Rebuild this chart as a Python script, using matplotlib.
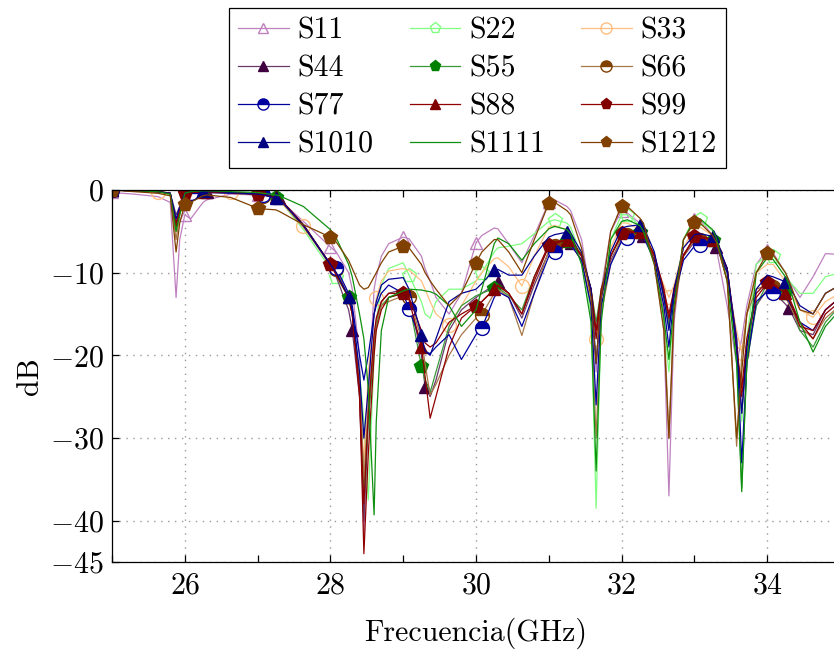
import numpy as np
import matplotlib
matplotlib.use('Agg')
import matplotlib.pyplot as plt

plt.rcParams['font.family'] = 'serif'
plt.rcParams['font.serif'] = ['cmr10']
plt.rcParams['mathtext.fontset'] = 'cm'
plt.rcParams['axes.formatter.use_mathtext'] = True

FS = 21.5

# frequency grid (GHz), denser around the notches
freq = [25.0, 25.3, 25.63, 25.8, 25.88, 25.93, 26.0, 26.08, 26.25, 26.3, 26.63, 27.0, 27.08, 27.25, 27.3, 27.63,
        28.0, 28.08, 28.25, 28.3, 28.4, 28.46, 28.52, 28.6, 28.63, 28.7, 28.8,
        29.0, 29.08, 29.25, 29.3, 29.37, 29.45, 29.63, 29.8,
        30.0, 30.08, 30.25, 30.3, 30.45, 30.63, 30.8,
        31.0, 31.08, 31.25, 31.3, 31.45, 31.58, 31.65, 31.72, 31.85,
        32.0, 32.08, 32.25, 32.3, 32.45, 32.58, 32.65, 32.72, 32.85,
        33.0, 33.08, 33.25, 33.3, 33.45, 33.58, 33.65, 33.72, 33.85,
        34.0, 34.08, 34.25, 34.3, 34.45, 34.63, 34.8, 35.0]

s11 = [-0.3, -0.5, -0.8, -1.5, -13.0, -6.0, -3.0, -3.5, -1.5, -1.2, -0.5, -0.6, -0.7, -1.0, -1.2, -3.8,
       -6.9, -7.5, -10.0, -12.0, -20.0, -42.0, -25.0, -12.0, -10.5, -8.0, -6.5,
       -5.7, -5.9, -8.0, -9.5, -11.0, -13.0, -15.0, -12.5,
       -6.4, -5.5, -4.6, -4.7, -6.5, -8.8, -5.5,
       -1.5, -1.2, -2.0, -2.5, -6.0, -13.0, -22.0, -12.0, -5.0,
       -2.5, -2.8, -4.0, -4.5, -8.5, -17.0, -37.0, -16.0, -6.0,
       -3.5, -3.6, -5.5, -7.0, -14.0, -21.0, -18.0, -14.0, -9.0,
       -7.2, -7.6, -10.0, -11.0, -13.0, -10.5, -7.7, -7.8]
s22 = [0.0, -0.1, -0.3, -0.6, -5.0, -3.0, -0.8, -0.4, -0.2, -0.2, -0.3, -0.5, -0.6, -1.0, -1.2, -4.8,
       -9.5, -10.5, -13.0, -15.0, -22.0, -28.0, -37.5, -20.0, -16.0, -11.5, -9.5,
       -8.8, -10.3, -13.5, -15.0, -15.5, -13.5, -12.0, -12.0,
       -11.0, -10.0, -7.5, -7.0, -6.8, -6.5, -5.3,
       -3.8, -3.6, -4.0, -4.5, -8.0, -15.0, -38.5, -15.0, -6.0,
       -3.0, -3.0, -4.3, -5.0, -9.0, -16.0, -22.0, -14.0, -6.0,
       -3.3, -3.5, -5.0, -6.0, -11.0, -20.0, -28.0, -18.0, -9.0,
       -7.8, -8.0, -10.0, -11.0, -12.5, -12.5, -10.5, -10.0]
s33 = [0.0, -0.1, -0.3, -0.4, -4.0, -2.5, -0.5, -0.3, -0.2, -0.2, -0.3, -0.6, -0.7, -1.1, -1.3, -4.4,
       -9.0, -10.0, -13.0, -15.0, -24.0, -33.0, -22.0, -15.0, -13.1, -11.0, -9.8,
       -9.5, -9.7, -11.0, -12.0, -13.5, -15.0, -16.3, -14.0,
       -11.0, -10.0, -8.3, -8.2, -9.3, -11.6, -8.0,
       -4.5, -4.3, -4.8, -5.2, -8.5, -13.0, -18.0, -14.0, -7.0,
       -4.0, -4.0, -4.8, -5.4, -8.5, -11.5, -13.0, -11.5, -7.0,
       -4.5, -4.5, -5.5, -6.3, -11.0, -17.0, -19.7, -15.0, -10.0,
       -9.0, -9.0, -11.0, -12.0, -14.5, -15.4, -13.5, -12.5]
s44 = [0.0, -0.1, -0.2, -0.4, -3.0, -2.0, -0.4, -0.3, -0.2, -0.2, -0.3, -0.5, -0.6, -0.9, -1.0, -4.3,
       -9.2, -10.5, -14.5, -16.9, -25.0, -40.0, -28.0, -18.0, -16.0, -13.5, -12.5,
       -12.0, -12.8, -20.0, -23.8, -25.0, -23.0, -17.0, -14.5,
       -13.0, -12.5, -11.5, -11.1, -12.5, -15.5, -11.5,
       -7.5, -7.0, -6.3, -6.4, -8.0, -12.0, -17.0, -13.0, -8.5,
       -6.0, -5.6, -5.5, -5.6, -8.0, -12.0, -16.0, -12.0, -8.0,
       -6.3, -6.3, -6.6, -6.9, -9.5, -18.0, -27.0, -20.0, -14.0,
       -12.0, -12.3, -13.8, -14.3, -17.0, -17.5, -14.5, -13.0]
s55 = [0.0, -0.1, -0.2, -0.4, -5.0, -2.5, -0.5, -0.3, -0.1, -0.1, -0.3, -0.5, -0.6, -0.9, -1.0, -4.3,
       -9.0, -10.2, -12.9, -14.5, -23.0, -36.0, -28.0, -19.0, -16.5, -14.0, -13.0,
       -12.5, -13.5, -21.3, -23.0, -24.5, -22.0, -16.5, -14.0,
       -12.8, -12.5, -11.9, -11.8, -12.8, -14.5, -10.5,
       -6.8, -6.5, -6.2, -6.3, -8.0, -12.0, -16.0, -12.0, -8.0,
       -5.5, -5.2, -5.1, -5.3, -8.0, -13.0, -16.5, -13.0, -8.0,
       -5.8, -5.8, -6.0, -6.5, -9.5, -20.0, -36.0, -21.0, -14.0,
       -11.3, -11.5, -12.5, -13.3, -17.0, -19.0, -16.0, -14.0]
s66 = [0.0, -0.1, -0.2, -0.4, -6.0, -3.0, -0.6, -0.4, -0.3, -0.3, -0.4, -0.6, -0.7, -1.0, -1.2, -4.5,
       -9.0, -9.5, -13.0, -15.0, -23.0, -35.0, -26.0, -18.0, -16.0, -14.0, -13.5,
       -12.8, -13.0, -18.0, -21.0, -24.8, -23.5, -20.0, -17.5,
       -15.5, -15.1, -12.5, -12.0, -13.0, -17.6, -12.5,
       -7.3, -6.8, -6.4, -6.6, -8.5, -14.0, -30.0, -15.0, -9.0,
       -5.7, -5.4, -5.4, -5.6, -8.0, -15.0, -30.0, -14.0, -8.0,
       -6.0, -6.0, -6.3, -6.7, -10.0, -31.0, -20.0, -15.0, -12.0,
       -11.5, -11.7, -13.0, -13.8, -16.5, -18.0, -15.5, -14.0]
s77 = [0.0, -0.1, -0.2, -0.4, -4.0, -2.5, -0.5, -0.4, -0.3, -0.3, -0.4, -0.5, -0.6, -0.9, -1.0, -4.2,
       -9.0, -9.4, -12.5, -14.0, -20.0, -23.0, -20.0, -15.0, -14.0, -12.5, -11.5,
       -12.5, -14.4, -18.5, -19.5, -19.8, -19.0, -17.5, -20.5,
       -17.5, -16.7, -13.0, -12.3, -13.0, -16.5, -12.5,
       -8.0, -7.5, -6.5, -6.6, -8.5, -14.0, -26.0, -14.0, -9.0,
       -6.2, -5.8, -5.5, -5.7, -8.5, -14.0, -19.0, -13.0, -8.5,
       -6.8, -6.7, -6.5, -6.8, -10.0, -18.0, -33.0, -21.0, -13.5,
       -12.3, -12.5, -13.0, -13.5, -16.0, -17.0, -14.5, -13.0]
s88 = [0.0, -0.1, -0.2, -0.4, -4.0, -2.5, -0.5, -0.3, -0.2, -0.2, -0.3, -0.5, -0.6, -0.9, -1.0, -4.3,
       -9.0, -10.3, -13.0, -15.0, -24.0, -44.0, -32.0, -20.0, -17.0, -14.5, -13.0,
       -12.5, -13.3, -19.0, -22.5, -27.6, -25.0, -19.0, -15.5,
       -14.0, -13.5, -12.0, -11.6, -12.5, -15.0, -11.0,
       -6.8, -6.5, -6.0, -6.1, -7.8, -12.0, -18.0, -12.5, -8.0,
       -5.4, -5.2, -5.1, -5.3, -7.8, -12.0, -15.0, -12.0, -7.8,
       -5.8, -5.8, -6.0, -6.4, -9.5, -19.0, -25.0, -19.0, -13.0,
       -11.3, -11.5, -12.4, -13.0, -16.0, -18.0, -15.0, -13.5]
s99 = [0.0, -0.1, -0.2, -0.4, -4.5, -2.5, -0.4, -0.3, -0.2, -0.2, -0.3, -0.5, -0.6, -0.9, -1.0, -4.2,
       -9.0, -10.0, -13.0, -15.0, -25.0, -38.0, -27.0, -17.5, -15.5, -13.5, -12.5,
       -12.5, -13.0, -17.0, -18.5, -19.0, -18.5, -16.0, -15.0,
       -14.0, -13.5, -12.0, -11.5, -12.5, -15.0, -10.5,
       -6.6, -6.3, -6.0, -6.2, -8.0, -12.0, -17.0, -12.0, -8.0,
       -5.2, -5.0, -5.1, -5.4, -8.0, -12.5, -15.5, -12.5, -8.0,
       -5.6, -5.6, -6.0, -6.4, -9.5, -19.0, -24.0, -18.0, -12.5,
       -11.1, -11.3, -12.5, -13.2, -16.5, -17.0, -14.5, -13.0]
s1010 = [0.0, -0.1, -0.2, -0.4, -3.5, -2.0, -0.4, -0.2, -0.1, -0.1, -0.3, -0.5, -0.6, -1.0, -1.1, -4.3,
         -9.0, -10.0, -12.9, -14.5, -22.0, -30.0, -24.0, -15.0, -13.5, -11.5, -10.8,
         -10.6, -12.0, -17.5, -19.5, -20.0, -18.0, -13.5, -12.5,
         -12.0, -11.3, -9.7, -9.6, -10.3, -10.3, -8.0,
         -5.7, -5.4, -5.1, -5.3, -7.5, -12.0, -21.0, -13.0, -7.5,
         -4.6, -4.4, -4.2, -4.4, -7.5, -13.0, -17.0, -12.0, -7.0,
         -5.4, -5.3, -5.6, -6.0, -9.5, -19.0, -27.0, -19.0, -12.0,
         -10.3, -10.5, -11.1, -11.6, -14.0, -15.0, -12.5, -11.5]
s1111 = [0.0, -0.1, -0.2, -0.5, -5.0, -3.0, -0.4, -0.2, -0.1, -0.1, -0.2, -0.3, -0.4, -0.6, -0.7, -2.0,
         -4.8, -5.8, -9.0, -10.5, -15.0, -18.0, -24.0, -39.3, -28.0, -17.0, -13.0,
         -12.2, -12.0, -12.1, -12.2, -12.3, -12.6, -14.0, -16.5,
         -14.5, -12.0, -6.5, -5.8, -6.5, -8.5, -6.5,
         -4.7, -4.4, -4.8, -5.3, -9.0, -16.0, -34.0, -16.0, -6.0,
         -3.8, -3.6, -4.3, -5.0, -9.0, -15.5, -20.5, -14.0, -6.0,
         -3.6, -3.5, -4.8, -5.8, -11.0, -21.0, -36.5, -21.0, -10.0,
         -8.2, -8.4, -10.5, -11.5, -16.0, -19.6, -16.5, -14.5]
s1212 = [0.0, -0.2, -0.4, -0.7, -7.5, -4.0, -1.7, -1.5, -0.7, -0.6, -0.9, -2.2, -2.3, -2.4, -2.6, -4.2,
         -5.7, -6.3, -8.5, -9.5, -11.5, -12.0, -11.8, -10.5, -10.0, -8.8, -7.5,
         -6.8, -7.0, -9.0, -10.0, -11.0, -12.0, -14.0, -12.5,
         -8.8, -7.5, -6.0, -6.0, -7.5, -10.0, -6.0,
         -1.6, -1.5, -2.5, -3.0, -7.0, -13.0, -21.0, -13.0, -5.0,
         -1.9, -2.0, -3.4, -4.0, -9.0, -17.0, -30.0, -15.0, -6.0,
         -3.9, -4.0, -5.5, -6.3, -11.0, -30.0, -22.0, -15.0, -10.0,
         -7.6, -7.8, -10.0, -11.0, -14.5, -15.0, -12.5, -11.5]

labels = ['S11', 'S22', 'S33', 'S44', 'S55', 'S66', 'S77', 'S88', 'S99', 'S1010', 'S1111', 'S1212']
series = [s11, s22, s33, s44, s55, s66, s77, s88, s99, s1010, s1111, s1212]

ints = [25, 26, 27, 28, 29, 30, 31, 32, 33, 34]
marks = [ints,
         [25.0] + [k + 0.08 for k in ints[1:]],
         [25.0, 25.63, 26.63, 27.63, 28.63, 29.63, 30.63, 31.65, 32.65, 33.65, 34.63],
         [25.0] + [k + 0.3 for k in ints[1:]],
         [25.0] + [k + 0.25 for k in ints[1:]],
         [25.0] + [k + 0.08 for k in ints[1:]],
         [25.0] + [k + 0.08 for k in ints[1:]],
         [25.0] + [k + 0.25 for k in ints[1:]],
         ints,
         [25.0] + [k + 0.25 for k in ints[1:]],
         [],
         ints]

# (line colour, marker, marker colour, fill style)
styles = [('#bf80bf', '^', '#bf80bf', 'none'),
          ('#80ff80', 'p', '#80ff80', 'none'),
          ('#ffbf80', 'o', '#ffbf80', 'none'),
          ('#6a3a6a', '^', '#400040', 'full'),
          ('#3a9a3a', 'p', '#008000', 'full'),
          ('#a87848', 'o', '#804000', 'top'),
          ('#0000a0', 'o', '#0000a0', 'top'),
          ('#900000', '^', '#800000', 'full'),
          ('#900000', 'p', '#800000', 'full'),
          ('#000090', '^', '#000080', 'full'),
          ('#109010', '', '#008000', 'full'),
          ('#804000', 'p', '#804000', 'full')]

fig = plt.figure(figsize=(8.34, 6.5), dpi=100)
ax = fig.add_axes([0.1343, 0.1354, 0.8729, 0.5723])

freq_arr = np.array(freq)
handles = []
for lab, vals, mk, st in zip(labels, series, marks, styles):
    lc, m, mc, fs = st
    idx = [int(np.argmin(np.abs(freq_arr - f))) for f in mk]
    kw = dict(color=lc, lw=0.9, label=lab)
    if m:
        kw.update(marker=m, markevery=idx, markersize=10 if m != '^' else 9,
                  markeredgecolor=mc, markeredgewidth=1.0)
        if fs == 'none':
            kw.update(markerfacecolor='none')
        elif fs == 'top':
            kw.update(fillstyle='top', markerfacecolor=mc, markerfacecoloralt='white')
        else:
            kw.update(markerfacecolor=mc)
    h, = ax.plot(freq, vals, **kw)
    handles.append(h)

ax.set_xlim(25, 35)
ax.set_ylim(-45, 0)
ax.set_xticks([26, 28, 30, 32, 34])
ax.set_xticks([25, 27, 29, 31, 33, 35], minor=True)
ax.set_yticks([0, -10, -20, -30, -40, -45])
ax.tick_params(axis='both', which='both', direction='in', length=5, width=0.9,
               top=True, labelsize=FS, colors='black')
ax.tick_params(axis='x', pad=7)
ax.tick_params(axis='y', pad=6)
ax.grid(True, which='major', color='#999999', linestyle=(0, (1, 4)), linewidth=1.0)
for sp in ax.spines.values():
    sp.set_linewidth(0.9)
ax.set_xlabel('Frecuencia(GHz)', fontsize=FS, labelpad=13)
ax.set_ylabel('dB', fontsize=FS, labelpad=4)

order = [0, 3, 6, 9, 1, 4, 7, 10, 2, 5, 8, 11]
leg = fig.legend([handles[i] for i in order], [labels[i] for i in order],
                 ncol=3, loc='upper center', bbox_to_anchor=(0.5726, 0.988),
                 borderaxespad=0.0,
                 fontsize=FS, frameon=True, fancybox=False, edgecolor='black',
                 framealpha=1, handlelength=1.7, columnspacing=1.2,
                 labelspacing=0.36, borderpad=0.3, handletextpad=0.3, numpoints=1,
                 markerscale=0.8)
leg.get_frame().set_linewidth(0.9)

fig.savefig('out.png', dpi=100)
